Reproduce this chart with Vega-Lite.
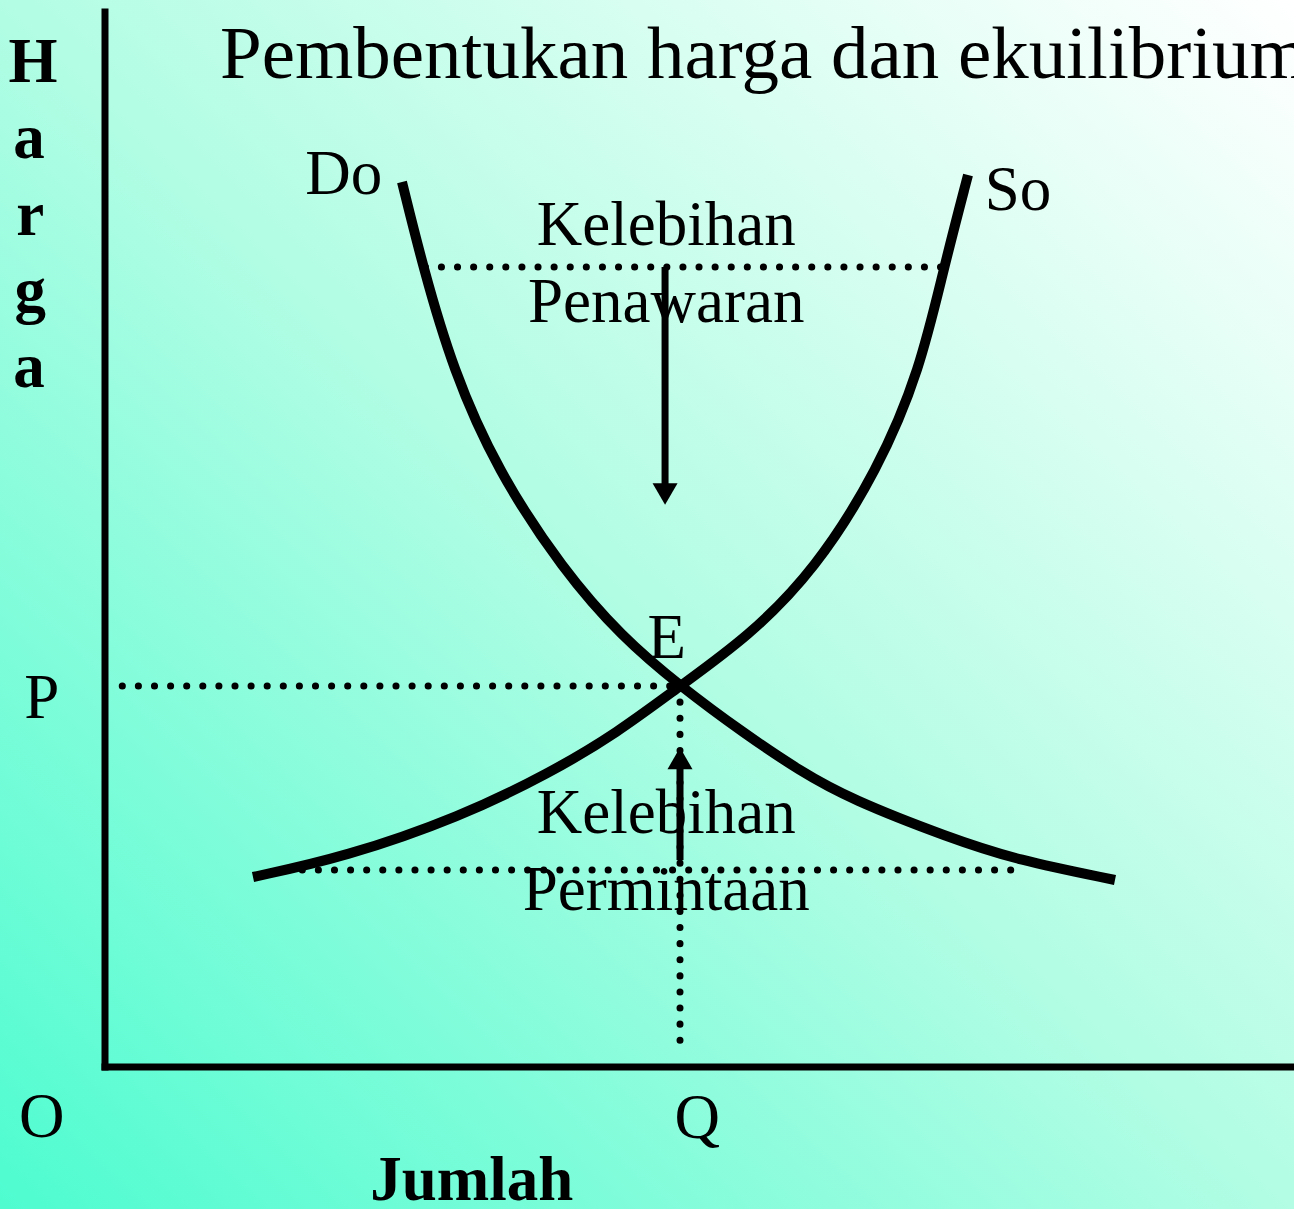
{
  "$schema": "https://vega.github.io/schema/vega-lite/v6.json",
  "width": 1294,
  "height": 1209,
  "padding": 0,
  "autosize": {"type": "none"},
  "config": {
    "view": {
      "stroke": null,
      "fill": {"gradient": "linear", "x1": 0, "y1": 1, "x2": 1, "y2": 0, "stops": [{"offset": 0, "color": "#4efcd0"}, {"offset": 0.5, "color": "#b2fde4"}, {"offset": 1, "color": "#ffffff"}]}
    },
    "text": {"font": "Liberation Serif", "color": "black"}
  },
  "datasets": {
    "curves": [
      {"curve": "Do", "q": 51.65, "p": 232.28},
      {"curve": "Do", "q": 55.30, "p": 209.97},
      {"curve": "Do", "q": 60.52, "p": 182.94},
      {"curve": "Do", "q": 68.17, "p": 156.69},
      {"curve": "Do", "q": 79.65, "p": 130.45},
      {"curve": "Do", "q": 89.91, "p": 112.86},
      {"curve": "Do", "q": 100, "p": 100},
      {"curve": "Do", "q": 111.30, "p": 87.40},
      {"curve": "Do", "q": 120.87, "p": 77.69},
      {"curve": "Do", "q": 129.57, "p": 70.34},
      {"curve": "Do", "q": 146.96, "p": 60.10},
      {"curve": "Do", "q": 158.61, "p": 54.33},
      {"curve": "Do", "q": 175.65, "p": 49.08},
      {"curve": "So", "q": 25.74, "p": 49.87},
      {"curve": "So", "q": 41.74, "p": 55.12},
      {"curve": "So", "q": 61.74, "p": 65.62},
      {"curve": "So", "q": 77.39, "p": 77.17},
      {"curve": "So", "q": 89.04, "p": 87.66},
      {"curve": "So", "q": 100, "p": 100},
      {"curve": "So", "q": 111.83, "p": 112.86},
      {"curve": "So", "q": 123.48, "p": 130.45},
      {"curve": "So", "q": 134.43, "p": 156.69},
      {"curve": "So", "q": 141.74, "p": 182.94},
      {"curve": "So", "q": 145.91, "p": 209.97},
      {"curve": "So", "q": 150.09, "p": 234.12}
    ],
    "guides": [
      {"name": "excess supply price", "q": 55.7, "q2": 146, "p": 210, "p2": 210},
      {"name": "P", "q": 3.0, "q2": 100, "p": 100, "p2": 100},
      {"name": "excess demand price", "q": 34.3, "q2": 159.1, "p": 51.7, "p2": 51.7},
      {"name": "Q", "q": 100, "q2": 100, "p": 100, "p2": 3.1}
    ],
    "axes": [
      {"name": "price axis", "q": 0, "q2": 0, "p": 0, "p2": 276.9},
      {"name": "quantity axis", "q": 0, "q2": 206.8, "p": 0, "p2": 0}
    ],
    "shafts": [
      {"dir": "down", "q": 97.4, "q2": 97.4, "p": 210, "p2": 152},
      {"dir": "up", "q": 100, "q2": 100, "p": 54.3, "p2": 80}
    ],
    "heads": [
      {"dir": "down", "q": 97.4, "p": 150.4},
      {"dir": "up", "q": 100, "p": 81.0}
    ],
    "labels": [
      {"role": "title", "text": "Pembentukan harga dan ekuilibrium", "q": 20.0, "p": 259.6},
      {"role": "axisname", "text": "H", "q": -12.5, "p": 258.5},
      {"role": "axisname", "text": "a", "q": -13.2, "p": 238.6},
      {"role": "axisname", "text": "r", "q": -13.0, "p": 218.4},
      {"role": "axisname", "text": "g", "q": -13.0, "p": 198.4},
      {"role": "axisname", "text": "a", "q": -13.2, "p": 178.5},
      {"role": "axisname", "text": "Jumlah", "q": 63.8, "p": -35.0},
      {"role": "demandlabel", "text": "Do", "q": 48.2, "p": 229.1},
      {"role": "supplylabel", "text": "So", "q": 153.0, "p": 224.9},
      {"role": "note", "text": "Kelebihan", "q": 97.6, "p": 215.7},
      {"role": "note", "text": "Penawaran", "q": 97.6, "p": 195.5},
      {"role": "note", "text": "E", "q": 97.7, "p": 107.3},
      {"role": "note", "text": "P", "q": -11.0, "p": 91.6},
      {"role": "note", "text": "Kelebihan", "q": 97.6, "p": 61.4},
      {"role": "note", "text": "Permintaan", "q": 97.6, "p": 41.2},
      {"role": "note", "text": "O", "q": -11.0, "p": -18.4},
      {"role": "note", "text": "Q", "q": 103.0, "p": -18.6}
    ]
  },
  "encoding": {
    "x": {"field": "q", "type": "quantitative", "scale": {"domain": [-18.26, 206.78], "nice": false, "zero": false}, "axis": null},
    "y": {"field": "p", "type": "quantitative", "scale": {"domain": [-37.27, 280.05], "nice": false, "zero": false}, "axis": null}
  },
  "layer": [
    {
      "data": {"name": "guides"},
      "mark": {"type": "rule", "color": "black", "strokeWidth": 7, "strokeCap": "round", "strokeDash": [0.1, 16]},
      "encoding": {"x2": {"field": "q2"}, "y2": {"field": "p2"}}
    },
    {
      "data": {"name": "axes"},
      "mark": {"type": "rule", "color": "black", "strokeWidth": 7, "strokeCap": "square"},
      "encoding": {"x2": {"field": "q2"}, "y2": {"field": "p2"}}
    },
    {
      "data": {"name": "shafts"},
      "mark": {"type": "rule", "color": "black", "strokeWidth": 7},
      "encoding": {"x2": {"field": "q2"}, "y2": {"field": "p2"}}
    },
    {
      "data": {"name": "heads"},
      "mark": {"type": "point", "filled": true, "color": "black", "opacity": 1, "size": 625, "strokeWidth": 0},
      "encoding": {
        "shape": {"field": "dir", "type": "nominal", "scale": {"domain": ["up", "down"], "range": ["triangle-up", "triangle-down"]}, "legend": null}
      }
    },
    {
      "data": {"name": "curves"},
      "mark": {"type": "line", "color": "black", "strokeWidth": 10, "interpolate": "basis", "strokeCap": "butt"},
      "encoding": {"detail": {"field": "curve", "type": "nominal"}}
    },
    {
      "data": {"name": "labels"},
      "transform": [{"filter": "datum.role === 'title'"}],
      "mark": {"type": "text", "fontSize": 75, "align": "left", "baseline": "alphabetic"},
      "encoding": {"text": {"field": "text"}}
    },
    {
      "data": {"name": "labels"},
      "transform": [{"filter": "datum.role === 'axisname'"}],
      "mark": {"type": "text", "fontSize": 63, "fontWeight": "bold", "align": "center", "baseline": "alphabetic"},
      "encoding": {"text": {"field": "text"}}
    },
    {
      "data": {"name": "labels"},
      "transform": [{"filter": "datum.role === 'note'"}],
      "mark": {"type": "text", "fontSize": 63, "align": "center", "baseline": "alphabetic"},
      "encoding": {"text": {"field": "text"}}
    },
    {
      "data": {"name": "labels"},
      "transform": [{"filter": "datum.role === 'demandlabel'"}],
      "mark": {"type": "text", "fontSize": 63, "align": "right", "baseline": "alphabetic"},
      "encoding": {"text": {"field": "text"}}
    },
    {
      "data": {"name": "labels"},
      "transform": [{"filter": "datum.role === 'supplylabel'"}],
      "mark": {"type": "text", "fontSize": 63, "align": "left", "baseline": "alphabetic"},
      "encoding": {"text": {"field": "text"}}
    }
  ]
}
